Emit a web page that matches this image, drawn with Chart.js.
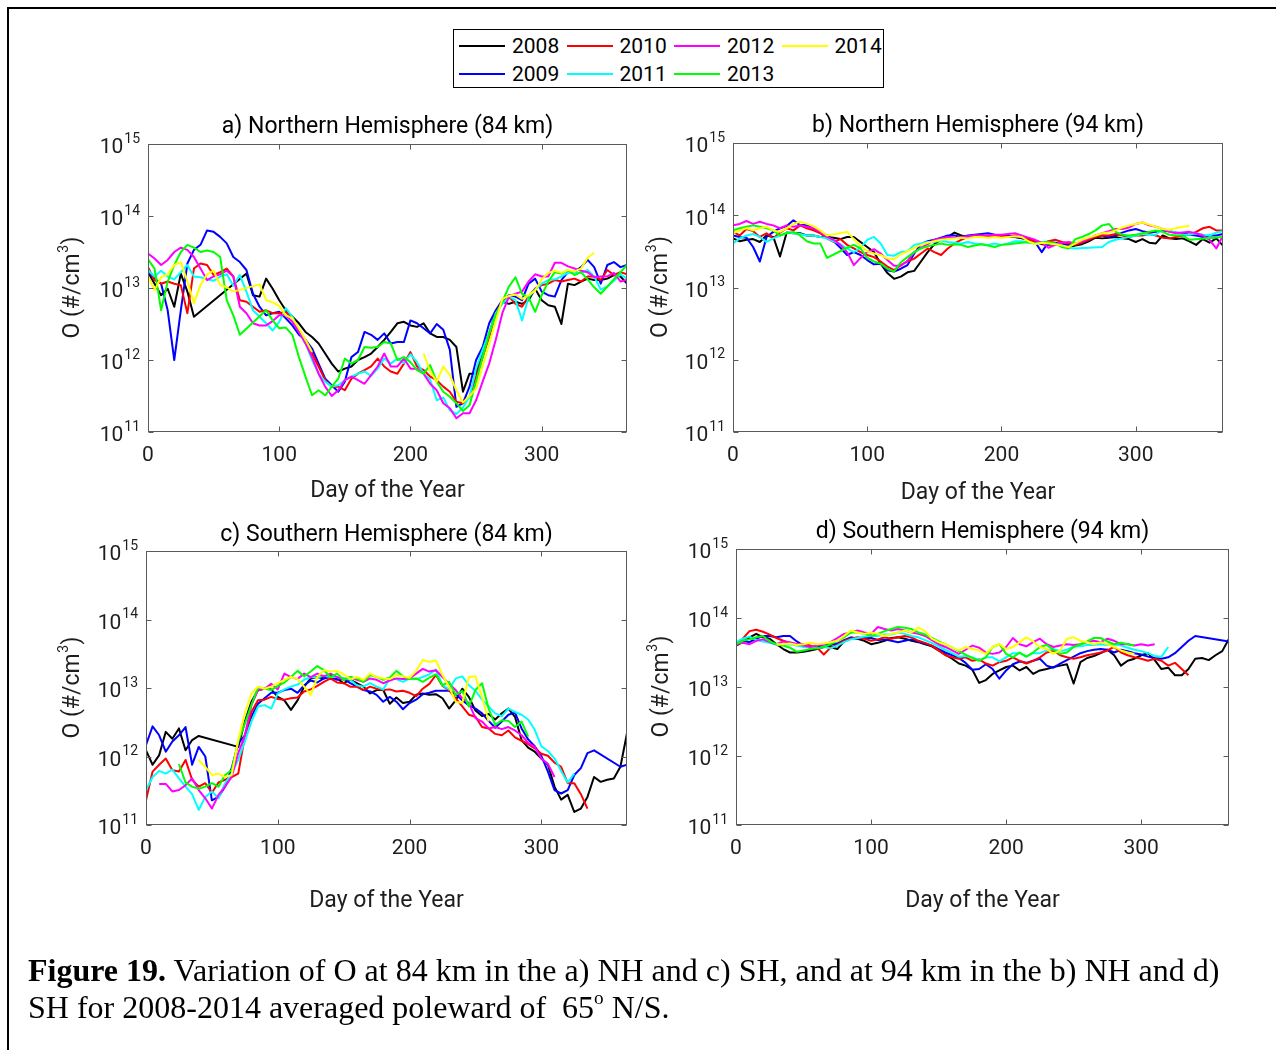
<!DOCTYPE html>
<html>
<head>
<meta charset="utf-8">
<title>Variation of O at 84 km and 94 km, 2008-2014</title>
<script src="https://cdn.jsdelivr.net/npm/chart.js@4.4.1/dist/chart.umd.min.js"></script>
<style>
  html, body { margin: 0; padding: 0; background: #fff; }
  #page { position: relative; width: 1276px; height: 1050px; overflow: hidden; background: #fff; }
  #frame { position: absolute; left: 7px; top: 7px; width: 1400px; height: 1200px;
           border-left: 2px solid #000; border-top: 2px solid #000; }
  canvas.panel { position: absolute; left: 0; top: 0; }
  #legend { position: absolute; left: 453px; top: 29px; width: 429px; height: 57px;
            border: 1px solid #000; background: #fff;
            font-family: Roboto, 'Noto Sans', sans-serif; font-size: 21px; color: #000; }
  #legend .swatch { position: absolute; width: 46px; height: 2px; }
  #legend .name { position: absolute; line-height: 24px; white-space: nowrap; }
  #caption { position: absolute; left: 28px; top: 952px; white-space: nowrap;
             font-family: 'Liberation Serif', 'Times New Roman', serif; font-size: 32px;
             line-height: 37px; color: #000; }
  #caption sup { font-size: 0.6em; line-height: 0; position: relative; top: -0.12em; }
</style>
</head>
<body>
<div id="page">
  <div id="frame"></div>
  <canvas class="panel" id="pa" width="1276" height="1050"></canvas>
  <canvas class="panel" id="pb" width="1276" height="1050"></canvas>
  <canvas class="panel" id="pc" width="1276" height="1050"></canvas>
  <canvas class="panel" id="pd" width="1276" height="1050"></canvas>
  <div id="legend"></div>
  <div id="caption"><b>Figure 19.</b> Variation of O at 84 km in the a) NH and c) SH, and at 94 km in the b) NH and d)<br>SH for 2008-2014 averaged poleward of &nbsp;65<sup>o</sup> N/S.</div>
</div>
<script>
// ---- data -------------------------------------------------------------
// Day of year sampling grid shared by every series.
const DAYS = [0,5,10,15,20,25,30,35,40,45,50,55,60,65,70,75,80,85,90,95,
  100,105,110,115,120,125,130,135,140,145,150,155,160,165,170,175,180,185,190,195,
  200,205,210,215,220,225,230,235,240,245,250,255,260,265,270,275,280,285,290,295,
  300,305,310,315,320,325,330,335,340,345,350,355,360,365];

const YEARS = [2008, 2009, 2010, 2011, 2012, 2013, 2014];
const COLORS = ['#000000', '#0000ff', '#ff0000', '#00ffff', '#ff00ff', '#00ff00', '#ffff00'];
const X_TICKS = [0, 100, 200, 300];
const Y_DECADES = [11, 12, 13, 14, 15];

// log10 of O number density (#/cm^3); null = no data on that day.
// a) Northern Hemisphere, 84 km
const nh84_2008 = [13.22,13.06,12.90,12.99,12.74,13.20,12.95,12.60,null,null,
  null,null,null,null,null,13.20,12.90,12.88,13.13,12.99,
  12.83,12.69,12.60,12.51,12.39,12.32,12.23,12.09,11.95,11.84,
  11.88,11.91,12.00,12.04,12.09,12.18,12.28,12.39,12.51,12.53,
  12.48,12.46,12.51,12.37,12.32,12.32,12.28,12.18,11.56,11.81,
  11.81,12.14,12.37,12.67,12.81,12.78,12.81,12.78,12.83,12.99,
  12.83,12.76,12.74,12.50,13.06,13.04,13.09,13.13,13.11,13.11,
  13.13,13.18,13.16,13.06];
const nh84_2009 = [13.22,13.13,13.06,12.69,12.00,12.69,13.34,13.53,13.60,13.80,
  13.78,13.71,13.62,13.43,13.36,13.25,12.92,12.74,12.62,12.65,
  12.67,12.58,12.48,12.35,12.28,12.16,11.95,11.74,11.65,11.56,
  11.70,12.04,12.11,12.39,12.35,12.28,12.37,12.23,12.25,12.25,
  12.55,12.51,12.44,12.37,12.50,12.42,12.14,11.35,11.40,11.63,
  12.00,12.18,12.51,12.69,12.83,12.90,12.88,12.83,13.06,13.13,
  12.95,12.90,12.88,13.11,13.22,13.22,13.29,13.39,13.29,13.06,
  13.32,13.36,13.29,13.32];
const nh84_2010 = [13.29,13.11,13.06,13.09,13.06,13.04,12.65,13.27,13.34,13.32,
  13.18,13.22,13.27,13.16,12.83,12.81,12.74,12.67,12.69,12.65,
  12.65,12.67,12.58,12.41,12.28,12.09,11.91,11.72,11.63,11.63,
  11.58,11.74,11.81,11.86,11.91,12.02,11.91,11.84,11.81,11.95,
  12.11,11.91,11.86,11.77,11.72,11.63,11.56,11.42,11.40,11.49,
  11.77,12.04,12.32,12.65,12.81,12.88,12.78,12.74,12.88,12.99,
  13.04,13.06,13.11,13.09,13.11,13.13,13.09,13.16,13.16,13.11,
  13.25,13.18,13.22,13.19];
const nh84_2011 = [13.25,13.16,13.24,13.16,13.12,13.22,13.32,13.16,13.15,13.12,
  13.10,13.16,13.19,13.03,13.18,12.95,12.69,12.60,12.51,12.41,
  12.53,12.72,12.60,12.41,12.23,12.00,11.81,11.70,11.63,11.65,
  11.72,11.77,11.81,11.84,11.78,11.88,12.02,11.95,12.02,11.96,
  12.08,11.97,11.81,11.73,11.44,11.48,11.30,11.25,11.34,11.49,
  11.88,12.14,12.38,12.65,12.78,12.88,12.83,12.55,12.87,12.98,
  13.06,13.11,13.12,13.16,13.21,13.22,13.21,13.25,13.16,12.98,
  13.02,13.10,13.19,13.13];
const nh84_2012 = [13.48,13.41,13.32,13.39,13.50,13.56,13.53,13.43,13.27,13.11,
  13.16,13.19,13.24,13.16,12.74,12.65,12.51,12.48,12.48,12.54,
  12.62,12.62,12.53,12.39,12.23,12.04,11.81,11.63,11.50,11.58,
  11.72,11.77,11.72,11.67,11.79,11.91,12.09,11.91,11.91,12.02,
  11.88,11.88,11.81,11.67,11.58,11.40,11.33,11.19,11.26,11.26,
  11.44,11.70,11.95,12.28,12.65,12.88,12.92,12.95,13.09,13.19,
  13.16,13.16,13.35,13.35,13.30,13.27,13.24,13.22,13.15,13.16,
  13.16,13.21,13.09,13.11];
const nh84_2013 = [13.40,13.27,12.69,13.09,13.32,13.50,13.60,13.56,13.50,13.52,
  13.50,13.43,12.83,12.62,12.35,null,null,null,12.69,12.55,
  12.44,12.45,12.35,12.04,11.77,11.51,11.58,11.51,11.63,11.74,
  12.02,11.95,12.00,12.18,12.17,12.18,12.25,12.23,12.00,12.04,
  11.97,11.86,11.81,11.93,11.70,11.56,11.49,11.40,11.29,11.37,
  11.70,12.04,12.37,12.62,12.81,13.02,13.15,12.92,12.87,12.67,
  12.90,13.09,13.22,13.20,13.25,13.18,13.22,13.12,13.01,12.92,
  null,null,null,13.32];
const nh84_2014 = [13.16,12.97,13.15,13.19,13.32,13.36,13.09,12.79,13.04,13.19,
  13.24,13.04,13.01,12.95,null,null,null,13.05,12.83,12.80,
  12.75,12.62,12.58,12.44,12.28,12.11,null,null,null,null,
  null,null,null,null,null,null,null,null,null,null,
  null,null,12.09,11.84,11.70,11.91,11.79,11.58,11.41,11.50,
  11.60,null,null,null,12.85,12.89,12.91,12.85,12.90,12.96,
  13.12,13.21,13.24,13.21,13.25,13.23,13.27,13.42,13.49,null,
  null,null,null,null];

// b) Northern Hemisphere, 94 km
const nh94_2008 = [13.68,13.64,13.66,13.67,13.63,13.72,13.70,13.43,13.76,13.75,
  13.75,13.72,13.72,13.70,13.70,13.69,13.67,13.70,13.70,13.63,
  13.56,13.49,13.33,13.20,13.12,13.15,13.21,13.23,13.36,13.49,
  13.60,13.67,13.70,13.76,13.72,13.70,13.72,13.72,13.70,13.72,
  13.72,13.70,13.70,13.68,13.66,13.63,13.60,13.59,13.60,13.61,
  13.56,13.58,13.60,13.64,13.69,13.68,13.69,13.70,13.68,13.67,
  13.63,13.67,13.62,13.61,13.72,13.68,13.67,13.68,13.64,13.59,
  13.67,13.62,13.68,13.58];
const nh94_2009 = [13.72,13.70,13.69,13.56,13.36,13.70,13.77,13.82,13.85,13.93,
  13.86,13.87,13.81,13.77,13.72,13.64,13.55,13.45,13.49,13.45,
  13.38,13.32,13.33,13.24,13.22,13.26,13.31,13.47,13.60,13.64,
  13.66,13.69,13.72,13.72,13.70,13.72,13.73,13.74,13.75,13.73,
  13.72,13.72,13.70,13.69,13.68,13.63,13.49,13.63,13.62,13.60,
  13.59,13.61,13.62,13.66,13.72,13.72,13.70,13.72,13.76,13.79,
  13.81,13.78,13.76,13.77,13.79,13.78,13.76,13.75,13.73,13.72,
  13.70,13.72,13.72,13.74];
const nh94_2010 = [13.77,13.72,13.81,13.78,13.70,13.75,13.68,13.76,13.82,13.79,
  13.86,13.82,13.79,13.75,13.68,13.63,13.67,13.59,13.54,13.49,
  13.45,13.42,13.36,13.29,13.24,13.31,13.36,13.40,13.47,13.54,
  13.49,13.45,13.54,13.61,13.66,13.70,13.72,13.72,13.70,13.72,
  13.72,13.70,13.72,13.69,13.67,13.63,13.61,13.64,13.66,13.63,
  13.61,13.59,13.62,13.66,13.70,13.72,13.72,13.74,13.72,13.70,
  13.72,13.72,13.74,13.72,13.69,13.68,13.70,13.72,13.73,13.77,
  13.82,13.84,13.79,13.79];
const nh94_2011 = [13.61,13.68,13.72,13.74,13.70,13.63,13.68,13.72,13.76,13.75,
  13.74,13.72,13.72,13.70,13.68,13.64,13.60,13.54,13.49,13.55,
  13.66,13.70,13.61,13.45,13.44,13.49,13.50,13.59,13.61,13.63,
  13.63,13.65,13.63,13.62,13.61,13.63,13.61,13.60,13.59,13.61,
  13.59,13.61,13.64,13.64,13.62,13.61,13.63,13.62,13.60,13.58,
  13.55,13.54,null,null,null,13.56,13.63,13.66,13.68,13.70,
  13.72,13.74,13.73,13.73,13.81,13.78,13.76,13.73,13.73,13.75,
  13.73,13.72,13.76,13.78];
const nh94_2012 = [13.86,13.88,13.92,13.88,13.91,13.88,13.86,13.82,13.86,13.84,
  13.86,13.84,13.82,13.77,13.70,13.66,13.59,13.49,13.31,13.41,
  13.49,13.53,13.47,13.38,13.30,13.30,13.37,13.49,13.55,13.60,
  13.66,13.68,13.70,13.69,13.70,13.71,13.72,13.72,13.72,13.73,
  13.73,13.74,13.75,13.72,13.69,13.66,13.62,13.55,13.59,13.62,
  13.63,13.61,13.64,13.68,13.72,13.75,13.78,13.81,13.81,13.83,
  13.88,13.90,13.86,13.84,13.81,13.77,13.75,13.76,13.77,13.75,
  13.72,13.66,13.54,13.72];
const nh94_2013 = [13.79,13.82,13.84,13.86,13.84,13.82,13.79,13.72,13.75,13.77,
  13.72,13.64,13.61,13.61,13.41,null,null,13.55,13.59,13.54,
  13.41,13.36,13.33,13.26,13.22,13.35,13.42,13.49,13.54,13.57,
  13.59,13.61,13.59,13.60,13.59,13.56,13.58,13.60,13.58,13.56,
  13.59,13.60,13.61,13.62,13.63,13.61,13.62,13.63,13.61,13.56,
  13.54,13.67,13.70,13.74,13.79,13.86,13.88,13.77,13.73,13.72,
  13.73,13.75,13.77,13.79,13.77,13.73,13.72,13.72,13.66,null,
  null,null,null,13.70];
const nh94_2014 = [13.75,13.79,13.82,13.79,13.82,13.84,13.79,13.77,13.82,13.88,
  13.91,13.88,13.85,13.79,13.72,null,null,13.77,13.67,13.58,
  13.50,13.47,13.45,13.40,13.39,13.46,13.50,13.55,13.59,13.62,
  13.64,13.66,13.67,13.68,13.69,13.68,13.70,13.70,13.69,13.70,
  13.69,13.70,13.71,13.70,13.64,13.60,13.62,13.61,13.60,13.58,
  13.56,13.61,13.66,13.69,13.72,13.75,13.76,13.79,13.83,13.86,
  13.88,13.90,13.87,13.84,13.81,13.80,13.82,13.84,13.85,null,
  null,null,null,null];

// c) Southern Hemisphere, 84 km
const sh84_2008 = [12.09,11.88,12.02,12.36,12.26,12.41,12.09,12.24,12.30,null,
  null,null,null,null,12.14,12.51,12.80,12.97,12.99,12.98,
  12.87,12.82,12.68,12.82,13.02,13.14,13.16,13.14,13.19,13.14,
  13.07,13.12,13.07,13.02,12.92,12.97,12.97,12.77,12.86,12.78,
  12.80,12.90,12.92,12.90,12.91,12.85,12.70,12.82,12.99,12.87,
  12.67,12.59,12.62,12.54,12.63,12.70,12.58,12.24,12.13,12.07,
  11.97,11.88,11.56,11.37,11.44,11.19,11.24,11.41,11.70,11.63,
  11.66,11.68,11.85,12.34];
const sh84_2009 = [12.17,12.44,12.31,12.07,12.22,12.31,12.43,11.88,12.14,12.00,
  11.36,11.41,11.56,11.83,12.19,12.31,12.58,12.77,12.85,12.93,
  12.93,12.97,12.99,12.93,13.04,13.11,13.08,13.14,13.16,13.12,
  13.14,13.07,13.02,12.97,12.95,12.90,12.80,12.87,12.80,12.69,
  12.78,12.83,12.91,12.93,12.96,12.96,12.96,12.91,12.82,12.75,
  12.70,12.63,12.52,12.42,12.51,12.61,12.64,12.41,12.25,12.15,
  12.01,11.78,11.51,11.46,11.51,11.73,11.83,12.05,12.09,null,
  null,null,11.85,11.88];
const sh84_2010 = [11.36,11.78,11.88,11.97,11.80,11.78,11.95,11.66,11.56,11.61,
  11.47,11.62,11.66,11.70,11.75,12.29,12.65,12.82,12.83,12.87,
  12.84,12.83,12.85,12.86,12.95,12.98,13.03,13.09,13.14,13.08,
  13.07,13.02,13.02,12.97,13.02,12.99,12.97,12.98,12.95,12.96,
  12.93,12.88,12.99,13.06,13.19,13.03,12.97,12.85,12.73,12.61,
  12.58,12.43,12.41,12.33,12.31,12.38,12.28,12.23,12.18,12.12,
  12.04,12.01,11.91,11.85,11.61,11.61,11.45,11.24,null,null,
  null,null,null,null];
const sh84_2011 = [11.51,11.70,11.79,11.75,11.81,11.68,11.56,11.45,11.22,11.41,
  11.49,11.39,11.61,11.75,11.95,12.22,12.51,12.73,12.75,12.70,
  12.92,12.98,13.02,13.05,13.12,13.16,13.15,13.18,13.16,13.16,
  13.14,13.12,13.04,13.02,13.07,13.02,12.98,13.14,13.13,13.09,
  13.14,13.13,13.16,13.20,13.27,13.04,12.98,13.14,13.17,13.04,
  12.96,12.83,12.73,12.63,12.59,12.70,12.65,12.61,12.54,12.39,
  12.15,12.08,11.97,11.79,11.62,11.75,null,null,null,null,
  null,null,null,null];
const sh84_2012 = [null,null,11.60,11.60,11.49,11.51,11.58,11.68,11.51,11.39,
  11.24,11.44,11.56,11.70,12.05,12.31,12.75,12.97,12.99,13.06,
  12.98,13.21,13.16,13.13,13.21,13.16,13.21,13.17,13.21,13.16,
  13.12,13.16,13.12,13.09,13.14,13.12,13.07,13.11,13.14,13.13,
  13.14,13.21,13.28,13.24,13.26,13.16,13.06,12.97,12.85,12.78,
  12.56,12.51,12.41,12.43,12.40,12.43,12.38,12.31,12.20,12.14,
  11.97,11.89,11.70,null,null,null,null,null,null,null,
  null,null,null,null];
const sh84_2013 = [null,null,null,null,null,11.89,11.62,11.56,11.53,11.56,
  11.61,11.56,11.73,11.80,12.22,12.48,12.75,13.01,12.99,12.97,
  13.03,13.08,13.16,13.25,13.17,13.24,13.32,13.26,13.16,13.21,
  13.12,13.16,13.14,13.09,13.19,13.16,13.12,13.15,13.25,13.17,
  13.13,13.14,13.09,13.15,13.20,13.04,13.09,12.90,12.96,12.73,
  12.97,13.07,12.70,12.46,12.53,12.52,12.43,12.51,12.29,null,
  null,null,null,null,null,null,null,null,null,null,
  null,null,null,null];
const sh84_2014 = [null,null,null,null,null,null,null,null,11.95,11.85,
  11.73,11.75,11.70,11.73,12.24,12.63,12.92,13.02,12.99,13.02,
  13.07,13.12,13.16,13.13,13.02,12.90,13.16,13.26,13.24,13.25,
  13.20,13.13,13.16,13.12,13.21,13.16,13.14,13.13,13.19,13.17,
  13.15,13.25,13.41,13.38,13.40,13.19,13.02,12.80,12.78,13.16,
  13.17,12.87,12.51,null,null,null,null,null,null,null,
  null,null,null,null,null,null,null,null,null,null,
  null,null,null,null];

// d) Southern Hemisphere, 94 km
const sh94_2008 = [13.60,13.65,13.72,13.77,13.72,13.70,13.62,13.55,13.50,13.50,
  13.51,13.53,13.55,13.58,13.58,13.55,13.66,13.71,13.70,13.67,
  13.62,13.64,13.67,13.71,13.72,13.70,13.67,13.65,13.62,13.59,
  13.53,13.47,13.41,13.34,13.31,13.25,13.06,13.10,13.19,13.24,
  13.29,13.31,13.24,13.29,13.19,13.24,13.26,13.29,13.31,13.33,
  13.05,13.36,13.42,13.45,13.49,13.54,13.46,13.31,13.38,13.41,
  13.46,13.49,13.39,13.26,13.28,13.17,13.17,13.26,13.41,13.42,
  13.39,13.46,13.52,13.70];
const sh94_2009 = [13.62,13.67,13.65,13.70,13.74,13.74,13.72,13.74,13.74,13.66,
  13.60,13.57,13.57,13.62,13.61,13.63,13.68,13.72,13.70,13.71,
  13.71,13.68,13.69,13.67,13.65,13.67,13.69,13.66,13.63,13.60,
  13.55,13.50,13.46,13.42,13.35,13.25,13.26,13.33,13.26,13.12,
  13.24,13.33,13.37,13.35,13.38,13.41,13.31,13.28,13.34,13.39,
  13.44,13.49,13.52,13.54,13.55,13.54,13.50,13.54,13.52,13.49,
  13.47,13.44,13.42,13.41,13.43,13.49,13.58,13.67,13.74,null,
  null,null,null,13.66];
const sh94_2010 = [13.60,13.70,13.81,13.83,13.80,13.76,13.71,13.67,13.64,13.62,
  13.62,13.60,13.57,13.47,13.57,13.61,13.67,13.70,13.72,13.70,
  13.67,13.69,13.72,13.70,13.72,13.74,13.72,13.67,13.64,13.60,
  13.53,13.46,13.43,13.41,13.43,13.38,13.40,13.34,13.31,13.36,
  13.38,13.43,13.38,13.34,13.38,13.43,13.50,13.53,13.46,13.43,
  13.41,13.43,13.46,13.48,13.50,13.53,13.58,13.50,13.46,13.43,
  13.41,13.38,13.41,13.38,13.31,13.35,13.26,13.17,null,null,
  null,null,null,null];
const sh94_2011 = [13.65,13.70,13.73,13.68,13.66,13.64,13.61,13.61,13.62,13.60,
  13.58,13.58,13.56,13.58,13.56,13.60,13.65,13.69,13.71,13.73,
  13.74,13.74,13.76,13.76,13.79,13.77,13.74,13.72,13.68,13.64,
  13.59,13.54,13.49,13.44,13.45,13.43,13.39,13.43,13.43,13.37,
  13.43,13.49,13.49,13.44,13.49,13.49,13.53,13.55,13.52,13.54,
  13.59,13.59,13.61,13.61,13.62,13.61,13.62,13.60,13.57,13.54,
  13.52,13.49,13.45,13.44,13.58,null,null,null,null,null,
  null,null,null,null];
const sh94_2012 = [13.62,13.64,13.62,13.67,13.69,13.65,13.62,13.66,13.65,13.62,
  13.60,13.58,13.60,13.62,13.65,13.71,13.77,13.79,13.82,13.79,
  13.77,13.87,13.84,13.82,13.84,13.82,13.79,13.77,13.74,13.68,
  13.62,13.58,13.53,13.48,13.54,13.60,13.57,13.50,13.48,13.50,
  13.58,13.71,13.62,13.59,13.65,13.70,13.62,13.58,13.60,13.62,
  13.61,13.62,13.65,13.67,13.65,13.70,13.67,13.62,13.62,13.60,
  13.62,13.60,13.62,null,null,null,null,null,null,null,
  null,null,null,null];
const sh94_2013 = [13.62,13.67,13.69,13.72,13.74,13.66,13.62,13.60,13.57,13.51,
  13.53,13.55,13.56,13.58,13.62,13.67,13.72,13.79,13.79,13.77,
  13.74,13.77,13.81,13.84,13.87,13.86,13.84,13.79,13.76,13.71,
  13.66,13.62,13.57,13.52,13.47,13.42,13.38,13.43,13.58,13.62,
  13.48,13.43,13.50,13.44,13.50,13.58,13.61,13.54,13.48,13.50,
  13.58,13.62,13.66,13.71,13.71,13.66,13.62,13.64,13.62,13.60,
  null,null,null,null,null,null,null,null,null,null,
  null,null,null,null];
const sh94_2014 = [null,null,null,null,null,null,13.62,13.62,13.63,13.61,
  13.62,13.64,13.62,13.63,13.65,13.67,13.74,13.82,13.79,13.77,
  13.79,13.77,13.74,13.77,13.79,13.82,13.79,13.86,13.81,13.70,
  13.65,13.62,13.57,13.53,13.58,13.55,13.53,13.48,13.58,13.62,
  13.55,13.58,13.65,13.72,13.66,13.58,13.55,13.48,13.53,13.70,
  13.72,13.67,13.65,13.62,13.65,13.62,13.58,13.53,13.50,13.48,
  null,null,null,null,null,null,null,null,null,null,
  null,null,null,null];

// ---- panels ------------------------------------------------------------
const PANELS = [
  { id: 'pa', title: 'a) Northern Hemisphere (84 km)',
    series: [nh84_2008, nh84_2009, nh84_2010, nh84_2011, nh84_2012, nh84_2013, nh84_2014],
    area: { left: 148, top: 144, right: 627, bottom: 432 },
    titleY: 127, xLabelDy: 24, xTitleDy: 59, yTitleX: 73 },
  { id: 'pb', title: 'b) Northern Hemisphere (94 km)',
    series: [nh94_2008, nh94_2009, nh94_2010, nh94_2011, nh94_2012, nh94_2013, nh94_2014],
    area: { left: 733, top: 143, right: 1223, bottom: 432 },
    titleY: 126, xLabelDy: 24, xTitleDy: 61, yTitleX: 661 },
  { id: 'pc', title: 'c) Southern Hemisphere (84 km)',
    series: [sh84_2008, sh84_2009, sh84_2010, sh84_2011, sh84_2012, sh84_2013, sh84_2014],
    area: { left: 146, top: 551, right: 627, bottom: 825 },
    titleY: 535, xLabelDy: 24, xTitleDy: 76, yTitleX: 73 },
  { id: 'pd', title: 'd) Southern Hemisphere (94 km)',
    series: [sh94_2008, sh94_2009, sh94_2010, sh94_2011, sh94_2012, sh94_2013, sh94_2014],
    area: { left: 736, top: 549, right: 1229, bottom: 825 },
    titleY: 532, xLabelDy: 24, xTitleDy: 76, yTitleX: 662 }
];

const PAGE_W = 1276, PAGE_H = 1050;
const FONT_FAMILY = "Roboto, 'Noto Sans', sans-serif";
const font = (px) => px + 'px ' + FONT_FAMILY;
const SIZE = { tick: 21, sup: 14, title: 23, axisTitle: 23 };

function toPoints(logValues) {
  const pts = [];
  logValues.forEach((v, i) => { if (v !== null) pts.push({ x: DAYS[i], y: Math.pow(10, v) }); });
  return pts;
}

// Box, inward ticks, decade labels, titles: drawn from the chart's own scales.
const axesBox = {
  id: 'axesBox',
  afterDatasetsDraw(chart, args, opts) {
    const { ctx, chartArea: a } = chart;
    const xs = chart.scales.x, ys = chart.scales.y;
    const L = Math.round(a.left) + 0.5, R = Math.round(a.right) - 0.5;
    const T = Math.round(a.top) + 0.5, B = Math.round(a.bottom) - 0.5;
    ctx.save();
    ctx.strokeStyle = '#5a5a5a';
    ctx.lineWidth = 1;
    ctx.strokeRect(L, T, R - L, B - T);
    ctx.beginPath();
    X_TICKS.forEach(v => {
      const px = Math.round(xs.getPixelForValue(v)) + 0.5;
      ctx.moveTo(px, B); ctx.lineTo(px, B - 5);
      ctx.moveTo(px, T); ctx.lineTo(px, T + 5);
    });
    Y_DECADES.forEach(e => {
      const py = Math.round(ys.getPixelForValue(Math.pow(10, e))) + 0.5;
      ctx.moveTo(L, py); ctx.lineTo(L + 5, py);
      ctx.moveTo(R, py); ctx.lineTo(R - 5, py);
    });
    ctx.stroke();

    ctx.fillStyle = '#1e1e1e';
    ctx.textBaseline = 'middle';
    // x tick labels
    ctx.font = font(SIZE.tick);
    ctx.textAlign = 'center';
    X_TICKS.forEach(v => ctx.fillText(String(v), xs.getPixelForValue(v), a.bottom + opts.xLabelDy));
    // y decade labels 10^n
    ctx.textAlign = 'left';
    Y_DECADES.forEach(e => {
      const py = ys.getPixelForValue(Math.pow(10, e));
      ctx.font = font(SIZE.sup);
      const ws = ctx.measureText(String(e)).width;
      ctx.font = font(SIZE.tick);
      const wb = ctx.measureText('10').width;
      const x0 = a.left - 9 - ws - wb;
      ctx.fillText('10', x0, py + 4);
      ctx.font = font(SIZE.sup);
      ctx.fillText(String(e), x0 + wb + 1, py - 5);
    });
    // panel title and x-axis title
    ctx.fillStyle = '#000';
    ctx.textAlign = 'center';
    ctx.font = font(SIZE.title);
    const cx = (a.left + a.right) / 2;
    ctx.fillText(opts.title, cx, opts.titleY);
    ctx.font = font(SIZE.axisTitle);
    ctx.fillStyle = '#1e1e1e';
    ctx.fillText('Day of the Year', cx, a.bottom + opts.xTitleDy);
    // y-axis title, rotated, with superscript
    ctx.translate(opts.yTitleX, (a.top + a.bottom) / 2);
    ctx.rotate(-Math.PI / 2);
    ctx.textAlign = 'left';
    ctx.font = font(SIZE.axisTitle);
    const w1 = ctx.measureText('O (#/cm').width;
    const w3 = ctx.measureText(')').width;
    ctx.font = font(SIZE.sup);
    const w2 = ctx.measureText('3').width;
    const x = -(w1 + w2 + w3) / 2;
    ctx.font = font(SIZE.axisTitle);
    ctx.fillText('O (#/cm', x, 0);
    ctx.font = font(SIZE.sup);
    ctx.fillText('3', x + w1 + 0.5, -9);
    ctx.font = font(SIZE.axisTitle);
    ctx.fillText(')', x + w1 + w2 + 1, 0);
    ctx.restore();
  }
};

PANELS.forEach(p => {
  const datasets = YEARS.map((yr, i) => ({
    label: String(yr),
    data: toPoints(p.series[i]),
    borderColor: COLORS[i],
    backgroundColor: COLORS[i],
    borderWidth: 2,
    pointRadius: 0,
    tension: 0,
    spanGaps: 50,
    borderJoinStyle: 'round',
    order: YEARS.length - 1 - i
  }));
  new Chart(document.getElementById(p.id), {
    type: 'line',
    data: { datasets },
    options: {
      responsive: false,
      animation: false,
      devicePixelRatio: 1,
      layout: { padding: { left: p.area.left, top: p.area.top,
                           right: PAGE_W - p.area.right, bottom: PAGE_H - p.area.bottom } },
      scales: {
        x: { type: 'linear', min: 0, max: 365, display: false },
        y: { type: 'logarithmic', min: 1e11, max: 1e15, display: false }
      },
      plugins: {
        legend: { display: false },
        tooltip: { enabled: false },
        axesBox: { title: p.title, titleY: p.titleY, xLabelDy: p.xLabelDy,
                   xTitleDy: p.xTitleDy, yTitleX: p.yTitleX }
      }
    },
    plugins: [axesBox]
  });
});

// ---- legend ------------------------------------------------------------
const legend = document.getElementById('legend');
YEARS.forEach((yr, i) => {
  const col = Math.floor(i / 2), row = i % 2;
  const left = 5 + col * 107.5, mid = 16 + row * 28;
  const sw = document.createElement('div');
  sw.className = 'swatch';
  sw.style.left = left + 'px';
  sw.style.top = (mid - 1) + 'px';
  sw.style.background = COLORS[i];
  legend.appendChild(sw);
  const name = document.createElement('div');
  name.className = 'name';
  name.style.left = (left + 53) + 'px';
  name.style.top = (mid - 12) + 'px';
  name.textContent = String(yr);
  legend.appendChild(name);
});
</script>
</body>
</html>
